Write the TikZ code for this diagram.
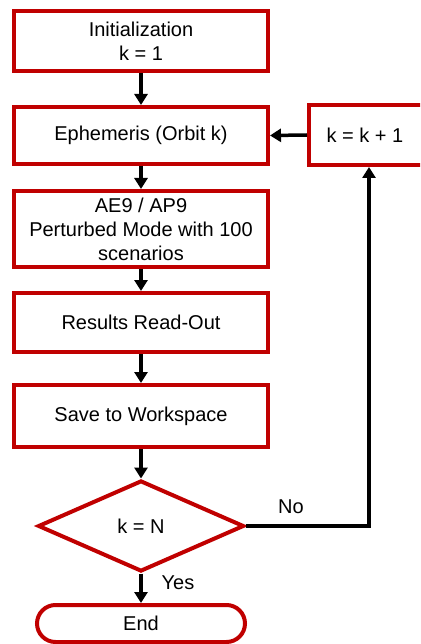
\documentclass[tikz,border=0pt]{standalone}
\usepackage{fontspec}
\setmainfont{Liberation Sans}
\usetikzlibrary{arrows.meta,shapes.geometric}
\definecolor{boxred}{RGB}{192,0,0}
\tikzset{
  stepbox/.style={draw=boxred, line width=4pt, fill=white, rectangle,
    minimum width=254pt, inner sep=0pt, align=center,
    font=\fontsize{20pt}{24pt}\selectfont},
  decision/.style={draw=boxred, line width=4pt, fill=white, diamond, aspect=2.26,
    minimum width=206pt, minimum height=91pt, inner sep=0pt,
    font=\fontsize{20pt}{24pt}\selectfont},
  terminal/.style={draw=boxred, line width=4pt, fill=white, rectangle,
    rounded corners=18.5pt, minimum width=208pt, minimum height=37pt, inner sep=0pt,
    font=\fontsize{20pt}{24pt}\selectfont},
  arr/.style={line width=3.5pt, -{Triangle[length=11pt,width=13pt]}},
  lbl/.style={font=\fontsize{20pt}{24pt}\selectfont, inner sep=0pt}
}
\begin{document}
\begin{tikzpicture}[x=1pt,y=-1pt]
  \useasboundingbox (0,0) rectangle (420,644);
  \clip (0,0) rectangle (420,644);

  % main column of process steps
  \node[stepbox, minimum height=60pt] (init) at (141,41) {Initialization\\k = 1};
  \node[stepbox, minimum height=57pt] (eph) at (141,135.5) {Ephemeris (Orbit k)};
  \node[stepbox, minimum height=76pt] (ae9) at (141,229) {AE9 / AP9\\Perturbed Mode with 100\\scenarios};
  \node[stepbox, minimum height=59pt] (read) at (141,322.5) {Results Read-Out};
  \node[stepbox, minimum height=62pt] (save) at (141,416) {Save to Workspace};
  \node[decision] (test) at (141,526) {k = N};
  \node[terminal] (stop) at (141,623.5) {End};

  % counter increment box (runs past the right edge)
  \node[stepbox, minimum width=120pt, minimum height=60pt] (inc) at (369,135) {\hspace*{-8pt}k = k + 1};

  % loop-back corner
  \coordinate (corner) at (369,526);

  % connectors
  \draw[arr] (init.south) -- (eph.north);
  \draw[arr] (eph.south) -- (ae9.north);
  \draw[arr] (ae9.south) -- (read.north);
  \draw[arr] (read.south) -- (save.north);
  \draw[arr] (save.south) -- (test.north);
  \draw[arr] (test.south) -- (stop.north);
  \draw[arr] (inc.west) -- (eph.east);
  \draw[arr] (test.east) -- (corner) -- (corner |- inc.south);

  % branch labels
  \node[lbl] at (291,507) {No};
  \node[lbl] at (178,583) {Yes};
\end{tikzpicture}
\end{document}
